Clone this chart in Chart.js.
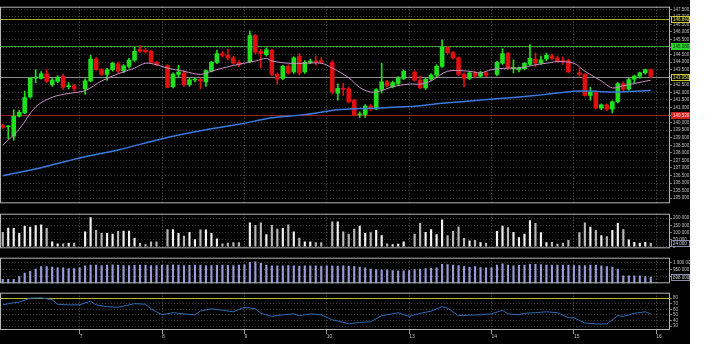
<!DOCTYPE html>
<html>
<head>
<meta charset="utf-8">
<script src="https://cdn.jsdelivr.net/npm/chart.js@4.4.1/dist/chart.umd.min.js"></script>
<style>
  html, body { margin: 0; padding: 0; background: #fff; }
  #wrap { position: relative; width: 690px; height: 344px; background: #000; }
  .pane { position: absolute; left: 0; width: 690px; }
</style>
</head>
<body>
<div id="wrap">
  <div class="pane" style="top:3px;height:204px"><canvas id="cPrice"></canvas></div>
  <div class="pane" style="top:210px;height:42px"><canvas id="cVol"></canvas></div>
  <div class="pane" style="top:254px;height:33px"><canvas id="cOi"></canvas></div>
  <div class="pane" style="top:289px;height:51px"><canvas id="cRsi"></canvas></div>
</div>
<script>
// jours affichés sur l'axe du temps (14 bougies par jour)
const days = ['6', '7', '8', '9', '10', '13', '14', '15', '16'];

const open = [
  139.80,139.72,139.11,140.42,140.64,141.70,142.95,142.93,143.23,142.51,142.72,143.08,142.38,142.44,
  142.23,142.76,144.21,143.51,143.19,143.51,143.89,143.44,143.72,144.14,144.85,144.78,144.72,143.99,
  143.78,142.38,143.19,143.29,142.51,142.82,142.87,142.70,143.40,143.99,144.57,144.46,144.29,143.99,
  144.04,145.76,144.72,144.50,144.78,143.19,142.93,143.72,143.35,144.40,143.35,143.99,144.08,144.10,
  143.97,141.95,142.27,142.23,141.49,140.52,140.53,141.10,140.91,142.19,142.70,142.38,142.59,142.93,
  143.35,142.81,142.30,142.87,143.14,143.72,144.99,144.63,144.29,143.19,142.93,143.29,143.08,143.29,
  143.19,143.93,144.57,143.55,143.49,143.57,143.86,144.21,143.93,144.21,144.42,144.29,144.10,144.10,
  143.29,143.19,141.80,142.02,140.96,141.17,140.89,141.38,142.59,142.21,142.87,143.08,143.29,143.51
];
const high = [
  139.90,139.80,140.85,140.81,142.08,143.00,143.51,143.38,143.50,142.93,143.10,143.20,142.65,142.55,
  142.90,144.47,144.30,143.60,143.60,144.00,144.00,143.85,144.25,144.99,145.10,144.90,144.80,144.05,
  143.85,143.30,143.80,143.45,142.95,142.95,142.95,143.50,144.05,144.80,144.70,144.85,144.40,144.10,
  146.08,145.85,144.85,144.95,144.85,143.30,143.80,143.85,144.35,144.55,144.10,144.20,144.40,144.30,
  144.10,142.57,142.60,142.35,141.55,140.72,141.20,141.20,142.25,143.93,142.80,142.75,143.05,143.50,
  143.45,143.10,142.95,143.25,143.85,145.48,145.05,144.70,144.35,143.30,143.40,143.40,143.40,143.40,
  144.05,144.89,144.65,144.16,143.70,143.98,145.16,144.60,144.40,144.60,144.55,144.40,144.35,144.20,
  143.61,143.25,142.33,142.10,141.25,141.25,141.45,142.65,142.70,142.95,143.15,143.35,143.55,143.55
];
const low = [
  139.62,138.93,138.83,140.36,140.60,141.62,142.65,142.88,142.65,142.40,142.65,142.20,142.23,142.10,
  141.87,142.70,143.45,143.10,142.80,143.40,143.30,143.30,143.60,144.05,144.65,144.60,143.95,143.75,
  142.30,142.30,143.00,142.40,142.40,142.70,142.23,142.40,143.35,143.90,144.35,144.15,143.85,143.70,
  143.95,144.55,143.60,144.40,143.10,142.55,142.85,143.20,143.25,143.15,143.25,143.90,143.80,143.90,
  141.90,141.49,141.80,141.30,140.45,140.34,140.35,140.80,140.85,141.95,142.35,142.30,142.50,142.85,
  142.75,142.25,142.20,142.80,143.05,143.65,144.55,144.20,143.10,142.38,142.85,143.00,143.00,143.05,
  143.10,143.85,143.50,143.29,143.35,143.50,143.80,143.70,143.85,144.10,144.15,144.00,143.85,143.30,
  143.08,141.75,141.49,140.90,140.85,140.80,140.64,141.30,142.10,142.15,142.60,142.95,143.20,143.00
];
const close = [
  139.68,139.76,140.42,140.68,141.66,142.93,142.99,143.23,142.72,142.81,143.02,142.33,142.42,142.27,
  142.76,144.21,143.51,143.19,143.51,143.93,143.40,143.76,144.14,144.72,144.72,144.68,143.99,143.83,
  142.33,143.19,143.34,142.51,142.84,142.85,142.76,143.44,143.99,144.57,144.46,144.29,143.93,143.83,
  145.76,144.67,144.57,144.82,143.19,142.87,143.72,143.29,144.29,143.29,143.99,144.08,144.00,143.99,
  142.05,142.27,142.20,141.38,140.53,140.55,141.10,140.91,142.19,142.70,142.44,142.65,142.97,143.40,
  142.81,142.30,142.87,143.14,143.72,144.99,144.63,144.29,143.19,142.93,143.29,143.08,143.29,143.14,
  143.99,144.57,143.61,143.65,143.63,143.93,144.25,143.93,144.15,144.46,144.25,144.10,144.04,143.35,
  143.19,141.80,142.02,140.96,141.17,140.89,141.38,142.59,142.21,142.85,143.08,143.29,143.51,143.08
];

// volume (en milliers)
const volume = [
  100,130,128,94,144,138,148,154,128,34,20,20,24,24,
  104,204,114,94,94,88,108,110,110,60,24,14,34,34,
  120,120,94,74,100,50,118,118,94,54,20,24,28,28,
  168,150,168,84,150,124,128,154,104,60,34,34,28,28,
  174,174,104,88,124,144,94,98,114,78,20,14,18,34,
  88,164,100,120,84,188,78,108,140,58,40,44,28,24,
  108,144,134,100,64,88,184,164,98,28,30,18,24,44,
  98,168,138,114,78,70,114,164,120,48,30,24,30,24
];

// position ouverte (en milliers), une valeur par créneau
const openInt = [
  883,883,883,902,926,939,954,972,972,967,963,963,957,957,963,976,981,
  981,979,981,983,981,979,978,980,981,981,979,978,980,981,983,981,979,980,981,981,979,978,980,981,980,979,981,983,
  1000,1005,994,981,
  976,977,976,978,976,975,976,977,976,975,976,976,975,976,974,972,968,
  963,954,950,948,948,944,942,941,944,950,954,957,961,963,987,985,981,978,972,968,972,965,963,963,
  981,991,981,976,980,981,987,987,985,981,981,981,981,981,978,978,978,981,981,976,972,968,954,
  907,907,907,907,902,898
];

// moyennes mobiles : [créneau, valeur]
const maFast = [
  [0,138.51],[3,139.57],[6,141.04],[9,141.68],[12,141.93],[15,142.12],[18,142.76],[21,143.23],
  [24,143.61],[26,143.93],[28,143.83],[30,143.61],[33,143.40],[36,143.19],[38,143.40],[40,143.61],
  [42,143.78],[43,143.86],[46,144.08],[48,144.25],[49,144.08],[52,143.93],[55,143.93],[58,143.93],
  [60,143.61],[63,142.97],[65,142.33],[67,142.02],[69,142.12],[71,142.38],[74,142.55],[76,142.55],
  [78,142.76],[81,143.40],[85,143.40],[87,143.29],[89,143.51],[92,143.61],[94,143.61],[97,143.83],
  [99,143.93],[101,144.04],[104,143.93],[106,143.40],[109,142.76],[111,142.30],[113,142.44],
  [115,142.59],[118,142.81]
];
const maSlow = [
  [0,136.49],[7,137.02],[14,137.66],[21,138.19],[29,138.93],[36,139.46],[43,139.89],[49,140.32],
  [55,140.53],[61,140.85],[67,140.96],[74,141.06],[80,141.28],[87,141.49],[93,141.66],[99,141.87],
  [104,142.08],[108,142.08],[111,142.02],[114,142.06],[118,142.12]
];

// oscillateur du bas : [créneau, valeur]
const rsi = [
  [0,68.1],[2,71.9],[3,73],[5,80],[7,80.5],[9,77.3],[10,69.1],[12,68],[14,68],[16,74.6],[17,68],
  [19,64.8],[21,63.7],[23,68],[24,70.2],[26,69.1],[27,61],[29,50.2],[31,54],[33,51.8],[35,50.2],
  [36,57.2],[38,61],[40,58.3],[42,55.6],[44,63.7],[46,61],[47,52.9],[49,47.4],[51,50.2],[53,51.8],
  [54,48.6],[56,51.8],[58,50.2],[60,41],[61,39.3],[63,33.9],[65,36.6],[67,37.7],[69,48.6],[70,50.2],
  [72,54],[74,47.4],[76,52.9],[78,56.7],[80,64.8],[81,62.1],[83,48.6],[85,49.6],[87,50.2],[89,51.8],
  [91,58.3],[92,51.8],[94,50.2],[95,52.9],[97,54],[99,55.6],[101,54],[103,44.8],[104,44.8],
  [106,35.5],[108,33.9],[110,33.9],[112,48.6],[113,47.4],[115,52.9],[117,55.6],[118,51.8]
];

// graduations des axes de droite
const volTicks = [0, 50, 100, 150, 200];
const oiTicks = [900, 950, 1000];
const rsiTicks = [30, 40, 50, 60, 70, 80];

// niveaux horizontaux
const priceLevels = [146.84, 145.08, 143.05, 140.53];
const rsiLevels = [80];

// --- construction des créneaux (14 bougies par jour + un créneau vide au début du jour)
const labels = [];
const dayStart = [];
const isCandle = [];
days.forEach((d, di) => {
  const last = di === days.length - 1;
  const from = di === 0 ? 1 : 0;
  const to = last ? 2 : 14;
  for (let s = from; s <= to; s++) {
    labels.push(d + '/' + s);
    dayStart.push(s === 0 ? d : '');
    isCandle.push(s > 0 && !last);
  }
});

const wicks = labels.map(() => null);
const bodies = labels.map(() => null);
const candleColors = labels.map(() => '#000');
const volData = labels.map(() => null);
const volColors = labels.map(() => '#fff');
let k = 0;
labels.forEach((l, i) => {
  if (!isCandle[i]) return;
  const up = close[k] >= open[k];
  wicks[i] = [low[k], high[k]];
  bodies[i] = [open[k], close[k]];
  candleColors[i] = up ? '#1fe01f' : '#e01010';
  volData[i] = volume[k];
  volColors[i] = up ? '#f2f2f2' : '#b8b8b8';
  k++;
});
const oiData = labels.map((l, i) => i < openInt.length ? openInt[i] : null);

function toSeries(pairs) {
  const arr = labels.map(() => null);
  pairs.forEach(([i, v]) => { arr[i] = v; });
  return arr;
}

const fmtSp = n => String(Math.round(n)).replace(/\B(?=(\d{3})+(?!\d))/g, ' ');
const tickFont = { family: 'Liberation Sans', size: 4.5 };

function xScale(showTicks) {
  return {
    type: 'category',
    offset: true,
    afterFit: s => { s.height = showTicks ? 10 : 0; },
    grid: {
      offset: false,
      drawTicks: showTicks,
      tickLength: 4,
      color: c => dayStart[c.index] ? '#5e5e5e' : 'rgba(0,0,0,0)',
      tickColor: c => dayStart[c.index] ? '#9a9a9a' : 'rgba(0,0,0,0)'
    },
    border: { display: false, dash: [1, 2] },
    ticks: {
      display: showTicks, autoSkip: false, maxRotation: 0, minRotation: 0,
      align: 'start', padding: 0, color: '#c0c0c0',
      font: { family: 'Liberation Sans', size: 5 },
      callback: (v, i) => dayStart[i]
    }
  };
}

function yScale(min, max, tickList, fmt) {
  const y = {
    position: 'right', min: min, max: max,
    afterFit: s => { s.width = 20; },
    grid: { color: '#3b3b3b', tickLength: 2, tickColor: '#777' },
    border: { display: false, dash: [1, 2] },
    ticks: {
      includeBounds: false, autoSkip: false,
      color: '#c0c0c0', padding: 1, font: tickFont, callback: fmt
    }
  };
  if (Array.isArray(tickList)) {
    y.afterBuildTicks = s => { s.ticks = tickList.map(v => ({ value: v })); };
  } else {
    y.ticks.stepSize = tickList;
  }
  return y;
}

function baseOptions(x, y) {
  return {
    responsive: true, maintainAspectRatio: false, animation: false,
    events: [],
    layout: { padding: 0, autoPadding: false },
    plugins: { legend: { display: false }, tooltip: { enabled: false } },
    scales: { x: x, y: y }
  };
}

// cadre gris autour de chaque panneau
const frame = {
  id: 'frame',
  afterDraw(chart) {
    const a = chart.chartArea, c = chart.ctx;
    c.save();
    c.strokeStyle = '#b4b4b4';
    c.lineWidth = 1;
    c.strokeRect(a.left + 0.5, a.top + 0.5, a.right - a.left - 1, a.bottom - a.top - 1);
    c.restore();
  }
};

// étiquette encadrée sur l'axe de droite
function axisBox(chart, yVal, text, bg, edge, fg) {
  const c = chart.ctx, a = chart.chartArea;
  const y = Math.round(chart.scales.y.getPixelForValue(yVal));
  c.save();
  c.fillStyle = bg;
  c.fillRect(a.right + 1, y - 3, 19, 7);
  c.strokeStyle = edge;
  c.lineWidth = 1;
  c.strokeRect(a.right + 1.5, y - 2.5, 18, 6);
  c.fillStyle = fg;
  c.font = '4.5px "Liberation Sans"';
  c.textBaseline = 'middle';
  c.fillText(text, a.right + 3, y + 0.5);
  c.restore();
}

const levelStyles = [
  { line: '#a8a82a', bg: '#000', edge: '#c8c830', fg: '#e6e640' },
  { line: '#3c9c3c', bg: '#2ed02e', edge: '#2ed02e', fg: '#0a2a0a' },
  { line: '#8c8c8c', bg: '#000', edge: '#c8c830', fg: '#e0e040' },
  { line: '#a02020', bg: '#d42020', edge: '#d42020', fg: '#ffd8d8' }
];

const priceLevelsPlugin = {
  id: 'priceLevels',
  beforeDatasetsDraw(chart) {
    const c = chart.ctx, a = chart.chartArea;
    c.save();
    priceLevels.forEach((v, i) => {
      const y = Math.round(chart.scales.y.getPixelForValue(v)) + 0.5;
      c.strokeStyle = levelStyles[i].line;
      c.lineWidth = 1;
      c.beginPath(); c.moveTo(a.left, y); c.lineTo(a.right, y); c.stroke();
    });
    c.restore();
  },
  afterDraw(chart) {
    priceLevels.forEach((v, i) => {
      const s = levelStyles[i];
      axisBox(chart, v, v.toFixed(3), s.bg, s.edge, s.fg);
    });
  }
};

const rsiLevelsPlugin = {
  id: 'rsiLevels',
  beforeDatasetsDraw(chart) {
    const c = chart.ctx, a = chart.chartArea;
    c.save();
    rsiLevels.forEach(v => {
      const y = Math.round(chart.scales.y.getPixelForValue(v)) + 0.5;
      c.strokeStyle = '#b4b428';
      c.lineWidth = 1;
      c.beginPath(); c.moveTo(a.left, y); c.lineTo(a.right, y); c.stroke();
    });
    c.restore();
  }
};

const lastValueBox = (data, fmt) => ({
  id: 'lastValue',
  afterDraw(chart) {
    const vals = data.filter(v => v !== null);
    const v = vals[vals.length - 1];
    axisBox(chart, v, fmt(v), '#000', '#8a8aa8', '#d0d0e0');
  }
});

// --- prix
new Chart(document.getElementById('cPrice'), {
  type: 'bar',
  data: {
    labels: labels,
    datasets: [
      { type: 'line', data: toSeries(maFast), borderColor: '#c890c8', borderWidth: 1,
        pointRadius: 0, spanGaps: true, tension: 0.35 },
      { type: 'line', data: toSeries(maSlow), borderColor: '#3a7be0', borderWidth: 1.5,
        pointRadius: 0, spanGaps: true, tension: 0.3 },
      { data: wicks, backgroundColor: candleColors, barThickness: 1, grouped: false },
      { data: bodies, backgroundColor: candleColors, barThickness: 4, grouped: false, minBarLength: 1 }
    ]
  },
  options: baseOptions(xScale(false), yScale(134.662, 147.672, 0.5, v => v.toFixed(3))),
  plugins: [frame, priceLevelsPlugin]
});

// --- volume
new Chart(document.getElementById('cVol'), {
  type: 'bar',
  data: {
    labels: labels,
    datasets: [{ data: volData, backgroundColor: volColors, barThickness: 1.5 }]
  },
  options: baseOptions(xScale(false), yScale(-12, 232, volTicks, v => fmtSp(v * 1000))),
  plugins: [frame, lastValueBox(volData, v => fmtSp(v * 1000))]
});

// --- position ouverte
new Chart(document.getElementById('cOi'), {
  type: 'bar',
  data: {
    labels: labels,
    datasets: [{ data: oiData, backgroundColor: '#9a9ad8', barThickness: 1.5 }]
  },
  options: baseOptions(xScale(false), yScale(855, 1033, oiTicks, v => fmtSp(v * 1000))),
  plugins: [frame, lastValueBox(oiData, v => fmtSp(v * 1000))]
});

// --- oscillateur
new Chart(document.getElementById('cRsi'), {
  type: 'line',
  data: {
    labels: labels,
    datasets: [{ data: toSeries(rsi), borderColor: '#2e6cb8', borderWidth: 1,
      pointRadius: 0, spanGaps: true, tension: 0 }]
  },
  options: baseOptions(xScale(true), yScale(23, 89.8, rsiTicks, v => String(v))),
  plugins: [frame, rsiLevelsPlugin]
});
</script>
</body>
</html>
